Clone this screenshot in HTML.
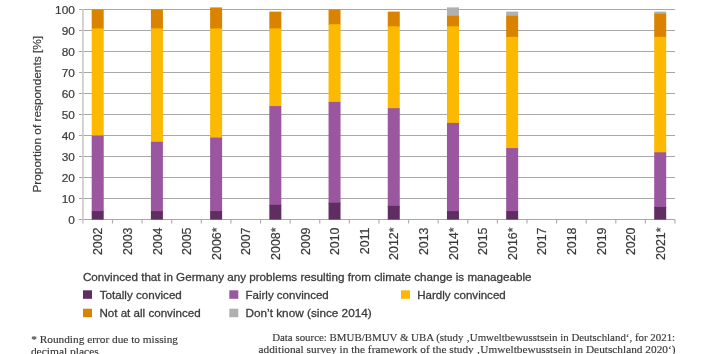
<!DOCTYPE html>
<html><head><meta charset="utf-8"><style>
html,body{margin:0;padding:0;background:#fff;width:707px;height:354px;overflow:hidden}
svg{display:block;will-change:transform}
.yt{font-family:"Liberation Sans",sans-serif;font-size:11px;fill:#3a3a3a;stroke:#3a3a3a;stroke-width:0.2px}
.xt{font-family:"Liberation Sans",sans-serif;font-size:12.4px;fill:#3a3a3a;text-anchor:end;stroke:#3a3a3a;stroke-width:0.2px}
.ttl{font-family:"Liberation Sans",sans-serif;font-size:11.6px;fill:#3a3a3a;stroke:#3a3a3a;stroke-width:0.2px}
.lg{font-family:"Liberation Sans",sans-serif;font-size:11.8px;fill:#3a3a3a;stroke:#3a3a3a;stroke-width:0.3px}
.fn{font-family:"Liberation Serif",serif;font-size:11.1px;fill:#383838;stroke:#383838;stroke-width:0.15px}
</style></head><body>
<svg width="707" height="354" viewBox="0 0 707 354">
<line x1="79" x2="675" y1="219.50" y2="219.50" stroke="#a8a8a8" stroke-width="1.1"/>
<line x1="79" x2="675" y1="198.50" y2="198.50" stroke="#a8a8a8" stroke-width="1.1"/>
<line x1="79" x2="675" y1="177.50" y2="177.50" stroke="#a8a8a8" stroke-width="1.1"/>
<line x1="79" x2="675" y1="156.50" y2="156.50" stroke="#a8a8a8" stroke-width="1.1"/>
<line x1="79" x2="675" y1="135.50" y2="135.50" stroke="#a8a8a8" stroke-width="1.1"/>
<line x1="79" x2="675" y1="114.50" y2="114.50" stroke="#a8a8a8" stroke-width="1.1"/>
<line x1="79" x2="675" y1="93.50" y2="93.50" stroke="#a8a8a8" stroke-width="1.1"/>
<line x1="79" x2="675" y1="72.50" y2="72.50" stroke="#a8a8a8" stroke-width="1.1"/>
<line x1="79" x2="675" y1="51.50" y2="51.50" stroke="#a8a8a8" stroke-width="1.1"/>
<line x1="79" x2="675" y1="30.50" y2="30.50" stroke="#a8a8a8" stroke-width="1.1"/>
<line x1="79" x2="675" y1="9.50" y2="9.50" stroke="#a8a8a8" stroke-width="1.1"/>
<text x="68.30" y="224.40" class="yt" textLength="6.60" lengthAdjust="spacingAndGlyphs">0</text>
<text x="61.70" y="203.40" class="yt" textLength="13.20" lengthAdjust="spacingAndGlyphs">10</text>
<text x="61.70" y="182.40" class="yt" textLength="13.20" lengthAdjust="spacingAndGlyphs">20</text>
<text x="61.70" y="161.40" class="yt" textLength="13.20" lengthAdjust="spacingAndGlyphs">30</text>
<text x="61.70" y="140.40" class="yt" textLength="13.20" lengthAdjust="spacingAndGlyphs">40</text>
<text x="61.70" y="119.40" class="yt" textLength="13.20" lengthAdjust="spacingAndGlyphs">50</text>
<text x="61.70" y="98.40" class="yt" textLength="13.20" lengthAdjust="spacingAndGlyphs">60</text>
<text x="61.70" y="77.40" class="yt" textLength="13.20" lengthAdjust="spacingAndGlyphs">70</text>
<text x="61.70" y="56.40" class="yt" textLength="13.20" lengthAdjust="spacingAndGlyphs">80</text>
<text x="61.70" y="35.40" class="yt" textLength="13.20" lengthAdjust="spacingAndGlyphs">90</text>
<text x="55.10" y="14.40" class="yt" textLength="19.80" lengthAdjust="spacingAndGlyphs">100</text>
<line x1="82.9" x2="82.9" y1="9" y2="223.5" stroke="#c8c8c8" stroke-width="1.6"/>
<line x1="112.51" x2="112.51" y1="219.5" y2="223.5" stroke="#b0b0b0" stroke-width="1.2"/>
<line x1="142.11" x2="142.11" y1="219.5" y2="223.5" stroke="#b0b0b0" stroke-width="1.2"/>
<line x1="171.72" x2="171.72" y1="219.5" y2="223.5" stroke="#b0b0b0" stroke-width="1.2"/>
<line x1="201.32" x2="201.32" y1="219.5" y2="223.5" stroke="#b0b0b0" stroke-width="1.2"/>
<line x1="230.93" x2="230.93" y1="219.5" y2="223.5" stroke="#b0b0b0" stroke-width="1.2"/>
<line x1="260.53" x2="260.53" y1="219.5" y2="223.5" stroke="#b0b0b0" stroke-width="1.2"/>
<line x1="290.13" x2="290.13" y1="219.5" y2="223.5" stroke="#b0b0b0" stroke-width="1.2"/>
<line x1="319.74" x2="319.74" y1="219.5" y2="223.5" stroke="#b0b0b0" stroke-width="1.2"/>
<line x1="349.35" x2="349.35" y1="219.5" y2="223.5" stroke="#b0b0b0" stroke-width="1.2"/>
<line x1="378.95" x2="378.95" y1="219.5" y2="223.5" stroke="#b0b0b0" stroke-width="1.2"/>
<line x1="408.56" x2="408.56" y1="219.5" y2="223.5" stroke="#b0b0b0" stroke-width="1.2"/>
<line x1="438.16" x2="438.16" y1="219.5" y2="223.5" stroke="#b0b0b0" stroke-width="1.2"/>
<line x1="467.76" x2="467.76" y1="219.5" y2="223.5" stroke="#b0b0b0" stroke-width="1.2"/>
<line x1="497.37" x2="497.37" y1="219.5" y2="223.5" stroke="#b0b0b0" stroke-width="1.2"/>
<line x1="526.98" x2="526.98" y1="219.5" y2="223.5" stroke="#b0b0b0" stroke-width="1.2"/>
<line x1="556.58" x2="556.58" y1="219.5" y2="223.5" stroke="#b0b0b0" stroke-width="1.2"/>
<line x1="586.19" x2="586.19" y1="219.5" y2="223.5" stroke="#b0b0b0" stroke-width="1.2"/>
<line x1="615.79" x2="615.79" y1="219.5" y2="223.5" stroke="#b0b0b0" stroke-width="1.2"/>
<line x1="645.39" x2="645.39" y1="219.5" y2="223.5" stroke="#b0b0b0" stroke-width="1.2"/>
<line x1="675.00" x2="675.00" y1="219.5" y2="223.5" stroke="#b0b0b0" stroke-width="1.2"/>
<rect x="91.70" y="9.50" width="12" height="19.70" fill="#d98300"/>
<rect x="91.70" y="28.40" width="12" height="107.90" fill="#fbb900"/>
<rect x="91.70" y="135.50" width="12" height="76.40" fill="#9b56a0"/>
<rect x="91.70" y="211.10" width="12" height="8.50" fill="#602d63"/>
<rect x="150.91" y="9.50" width="12" height="19.70" fill="#d98300"/>
<rect x="150.91" y="28.40" width="12" height="114.20" fill="#fbb900"/>
<rect x="150.91" y="141.80" width="12" height="70.10" fill="#9b56a0"/>
<rect x="150.91" y="211.10" width="12" height="8.50" fill="#602d63"/>
<rect x="210.12" y="7.40" width="12" height="21.80" fill="#d98300"/>
<rect x="210.12" y="28.40" width="12" height="110.00" fill="#fbb900"/>
<rect x="210.12" y="137.60" width="12" height="74.30" fill="#9b56a0"/>
<rect x="210.12" y="211.10" width="12" height="8.50" fill="#602d63"/>
<rect x="269.33" y="11.60" width="12" height="17.60" fill="#d98300"/>
<rect x="269.33" y="28.40" width="12" height="78.50" fill="#fbb900"/>
<rect x="269.33" y="106.10" width="12" height="99.50" fill="#9b56a0"/>
<rect x="269.33" y="204.80" width="12" height="14.80" fill="#602d63"/>
<rect x="328.54" y="9.50" width="12" height="15.50" fill="#d98300"/>
<rect x="328.54" y="24.20" width="12" height="78.50" fill="#fbb900"/>
<rect x="328.54" y="101.90" width="12" height="101.60" fill="#9b56a0"/>
<rect x="328.54" y="202.70" width="12" height="16.90" fill="#602d63"/>
<rect x="387.75" y="11.60" width="12" height="15.50" fill="#d98300"/>
<rect x="387.75" y="26.30" width="12" height="82.70" fill="#fbb900"/>
<rect x="387.75" y="108.20" width="12" height="98.45" fill="#9b56a0"/>
<rect x="387.75" y="205.85" width="12" height="13.75" fill="#602d63"/>
<rect x="446.96" y="7.40" width="12" height="9.20" fill="#b0b0b0"/>
<rect x="446.96" y="15.80" width="12" height="11.30" fill="#d98300"/>
<rect x="446.96" y="26.30" width="12" height="97.40" fill="#fbb900"/>
<rect x="446.96" y="122.90" width="12" height="89.00" fill="#9b56a0"/>
<rect x="446.96" y="211.10" width="12" height="8.50" fill="#602d63"/>
<rect x="506.17" y="11.60" width="12" height="5.00" fill="#b0b0b0"/>
<rect x="506.17" y="15.80" width="12" height="21.80" fill="#d98300"/>
<rect x="506.17" y="36.80" width="12" height="112.10" fill="#fbb900"/>
<rect x="506.17" y="148.10" width="12" height="63.80" fill="#9b56a0"/>
<rect x="506.17" y="211.10" width="12" height="8.50" fill="#602d63"/>
<rect x="654.20" y="11.60" width="12" height="2.90" fill="#b0b0b0"/>
<rect x="654.20" y="13.70" width="12" height="23.90" fill="#d98300"/>
<rect x="654.20" y="36.80" width="12" height="116.30" fill="#fbb900"/>
<rect x="654.20" y="152.30" width="12" height="55.40" fill="#9b56a0"/>
<rect x="654.20" y="206.90" width="12" height="12.70" fill="#602d63"/>
<text transform="translate(102.30,227.50) rotate(-90)" class="xt">2002</text>
<text transform="translate(131.91,227.50) rotate(-90)" class="xt">2003</text>
<text transform="translate(161.51,227.50) rotate(-90)" class="xt">2004</text>
<text transform="translate(191.12,227.50) rotate(-90)" class="xt">2005</text>
<text transform="translate(220.72,227.50) rotate(-90)" class="xt">2006*</text>
<text transform="translate(250.33,227.50) rotate(-90)" class="xt">2007</text>
<text transform="translate(279.93,227.50) rotate(-90)" class="xt">2008*</text>
<text transform="translate(309.54,227.50) rotate(-90)" class="xt">2009</text>
<text transform="translate(339.14,227.50) rotate(-90)" class="xt">2010</text>
<text transform="translate(368.75,227.50) rotate(-90)" class="xt">2011</text>
<text transform="translate(398.35,227.50) rotate(-90)" class="xt">2012*</text>
<text transform="translate(427.96,227.50) rotate(-90)" class="xt">2013</text>
<text transform="translate(457.56,227.50) rotate(-90)" class="xt">2014*</text>
<text transform="translate(487.17,227.50) rotate(-90)" class="xt">2015</text>
<text transform="translate(516.77,227.50) rotate(-90)" class="xt">2016*</text>
<text transform="translate(546.38,227.50) rotate(-90)" class="xt">2017</text>
<text transform="translate(575.98,227.50) rotate(-90)" class="xt">2018</text>
<text transform="translate(605.59,227.50) rotate(-90)" class="xt">2019</text>
<text transform="translate(635.19,227.50) rotate(-90)" class="xt">2020</text>
<text transform="translate(664.80,227.50) rotate(-90)" class="xt">2021*</text>
<text transform="translate(41.10,192.60) rotate(-90)" class="ttl" textLength="156.63" lengthAdjust="spacingAndGlyphs">Proportion of respondents [%]</text>
<text x="82.90" y="281.00" class="lg" textLength="448.61" lengthAdjust="spacingAndGlyphs">Convinced that in Germany any problems resulting from climate change is manageable</text>
<rect x="83" y="290.3" width="9" height="8.5" fill="#602d63"/>
<text x="99.80" y="298.60" class="lg" textLength="82.03" lengthAdjust="spacingAndGlyphs">Totally conviced</text>
<rect x="229.3" y="290.3" width="9" height="8.5" fill="#9b56a0"/>
<text x="245.50" y="298.60" class="lg" textLength="83.23" lengthAdjust="spacingAndGlyphs">Fairly convinced</text>
<rect x="401" y="290.3" width="9" height="8.5" fill="#fbb900"/>
<text x="417.20" y="298.60" class="lg" textLength="88.55" lengthAdjust="spacingAndGlyphs">Hardly convinced</text>
<rect x="83" y="308.7" width="9" height="8.5" fill="#d98300"/>
<text x="99.40" y="317.00" class="lg" textLength="101.24" lengthAdjust="spacingAndGlyphs">Not at all convinced</text>
<rect x="229.3" y="308.7" width="9" height="8.5" fill="#b0b0b0"/>
<text x="245.50" y="317.00" class="lg" textLength="126.22" lengthAdjust="spacingAndGlyphs">Don’t know (since 2014)</text>
<text x="31.20" y="342.60" class="fn" textLength="146.82" lengthAdjust="spacingAndGlyphs">* Rounding error due to missing</text>
<text x="30.90" y="354.60" class="fn" textLength="67.83" lengthAdjust="spacingAndGlyphs">decimal places</text>
<text x="272.15" y="340.70" class="fn" textLength="403.01" lengthAdjust="spacingAndGlyphs">Data source: BMUB/BMUV &amp; UBA (study ‚Umweltbewusstsein in Deutschland‘, for 2021:</text>
<text x="258.50" y="352.60" class="fn" textLength="417.01" lengthAdjust="spacingAndGlyphs">additional survey in the framework of the study ‚Umweltbewusstsein in Deutschland 2020‘)</text>
</svg>
</body></html>
